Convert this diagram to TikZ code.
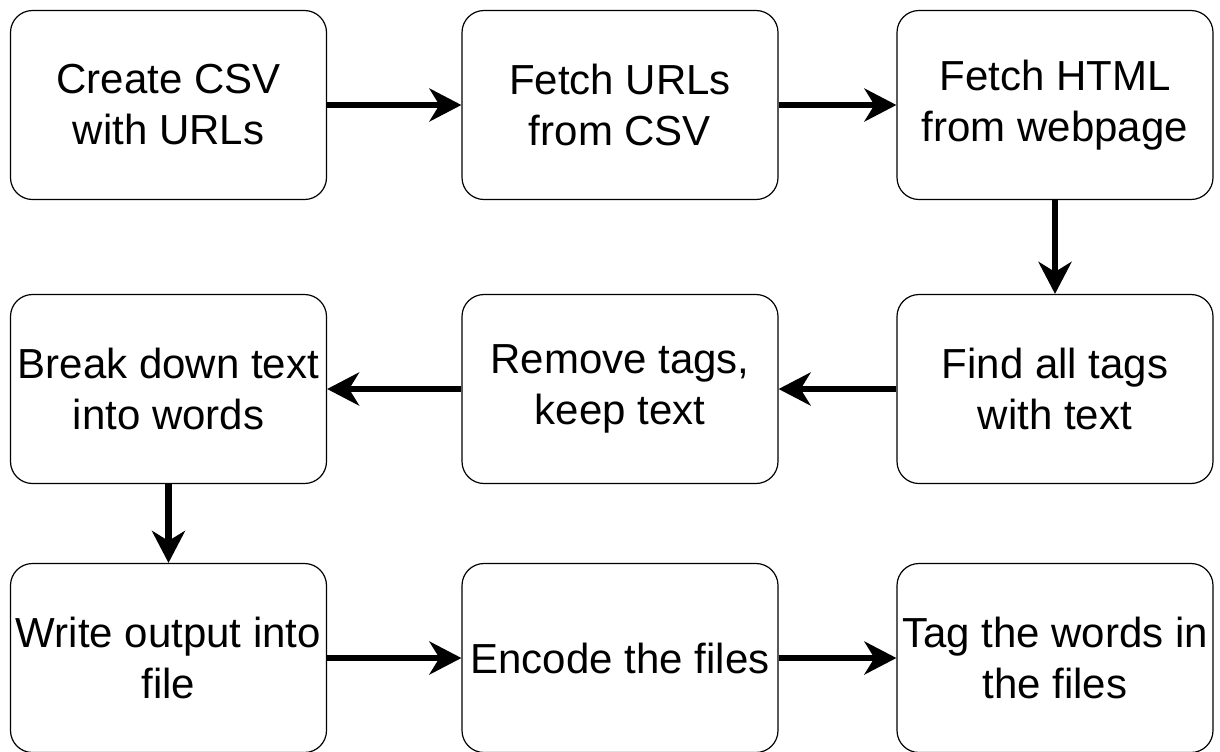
\documentclass[tikz,border=0pt]{standalone}
\usepackage{fontspec}
\setmainfont{Liberation Sans}
\usepackage{tikz}
\usetikzlibrary{arrows.meta, positioning}

\begin{document}
\begin{tikzpicture}[x=0.5pt, y=-0.5pt,
    box/.style={draw, line width=0.6pt, rounded corners=11pt, minimum width=158pt, minimum height=94.5pt,
        inner sep=0pt, align=center, font=\fontsize{21}{25.5}\selectfont},
    flow/.style={line width=3.3pt, -{Stealth[length=16pt, width=16.5pt, inset=5pt]}}]
                    \useasboundingbox (0, 0) rectangle (1220, 751);

                    \node[box] (csv) at (168.5, 105) {Create CSV\\with URLs};
                    \node[box] (urls) at (620, 105) {Fetch URLs\\from CSV};
                    \node[box] (html) at (1055, 105) {Fetch HTML\\from webpage};
                    \node[box] (tags) at (1055, 389) {Find all tags\\with text};
                    \node[box] (strip) at (620, 389) {Remove tags,\\keep text};
                    \node[box] (words) at (168.5, 389) {Break down text\\into words};
                    \node[box] (write) at (168.5, 658) {Write output into\\file};
                    \node[box] (encode) at (620, 658) {Encode the files};
                    \node[box] (tagwords) at (1055, 658) {Tag the words in\\the files};

                    \draw[flow] (csv) -- (urls);
                    \draw[flow] (urls) -- (html);
                    \draw[flow] (html) -- (tags);
                    \draw[flow] (tags) -- (strip);
                    \draw[flow] (strip) -- (words);
                    \draw[flow] (words) -- (write);
                    \draw[flow] (write) -- (encode);
                    \draw[flow] (encode) -- (tagwords);
                \end{tikzpicture}
\end{document}
